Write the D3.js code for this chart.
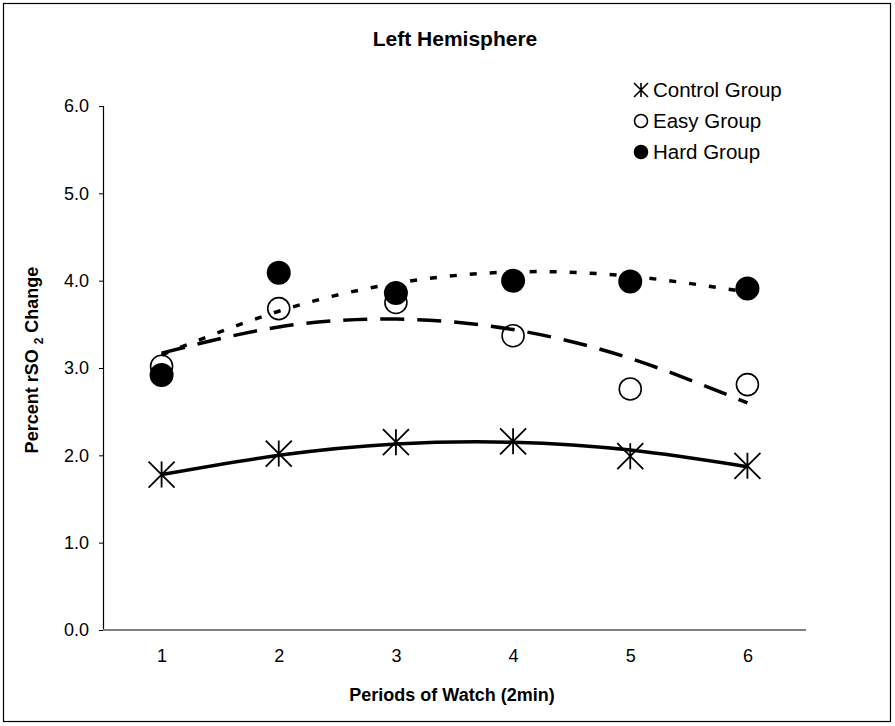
<!DOCTYPE html>
<html>
<head>
<meta charset="utf-8">
<title>Left Hemisphere</title>
<script src="https://cdn.jsdelivr.net/npm/d3@7"></script>
<style>
body { margin: 0; background: #fff; }
text { font-family: Arial, "Liberation Sans", sans-serif; fill: #000; }
</style>
</head>
<body>
<div id="chart"></div>
<script>
// values
var periods = ["1", "2", "3", "4", "5", "6"];
var controlValues = [1.78, 2.02, 2.15, 2.16, 1.99, 1.88];
var easyValues    = [3.02, 3.68, 3.75, 3.37, 2.76, 2.81];
var hardValues    = [2.92, 4.09, 3.86, 4.00, 3.99, 3.91];
// trend lines (polynomial fits in the original), read at each period
var controlTrend = [1.78, 2.00, 2.13, 2.15, 2.06, 1.87];
var easyTrend    = [3.17, 3.47, 3.56, 3.44, 3.11, 2.60];
var hardTrend    = [3.15, 3.65, 3.97, 4.10, 4.05, 3.87];
var yTicks = [0, 1, 2, 3, 4, 5, 6];

var svgWidth = 895, svgHeight = 726;
var plotLeft = 103, plotRight = 806, plotTop = 106, plotBottom = 630;

var svg = d3.select("#chart").append("svg")
    .attr("width", svgWidth)
    .attr("height", svgHeight);

// outer frame
svg.append("rect")
    .attr("x", 3.5).attr("y", 3.5)
    .attr("width", 887).attr("height", 718)
    .attr("fill", "none").attr("stroke", "#000").attr("stroke-width", 1.2);

var x = d3.scalePoint().domain(periods).range([plotLeft, plotRight]).padding(0.5);
var y = d3.scaleLinear().domain([0, 6]).range([plotBottom, plotTop]);

// y axis
var yAxis = svg.append("g")
    .attr("transform", "translate(" + plotLeft + ",0)")
    .call(d3.axisLeft(y).tickValues(yTicks).tickSize(4).tickPadding(10)
        .tickFormat(d3.format(".1f")));
yAxis.select(".domain").attr("stroke", "#000").attr("stroke-width", 1.2);
yAxis.selectAll(".tick line").attr("stroke", "#000");
yAxis.selectAll("text").attr("font-size", "18px").attr("font-family", null);

// x axis
var xAxis = svg.append("g")
    .attr("transform", "translate(0," + plotBottom + ")")
    .call(d3.axisBottom(x).tickSize(0).tickPadding(19).tickSizeOuter(0));
xAxis.select(".domain").attr("stroke", "#808080").attr("stroke-width", 2)
    .attr("d", "M" + plotLeft + ",0H" + plotRight);
xAxis.selectAll("text").attr("font-size", "18px").attr("font-family", null);

// titles
svg.append("text")
    .attr("x", 455).attr("y", 46)
    .attr("text-anchor", "middle")
    .attr("font-size", "21px").attr("font-weight", "bold")
    .text("Left Hemisphere");

svg.append("text")
    .attr("x", 452).attr("y", 701)
    .attr("text-anchor", "middle")
    .attr("font-size", "18px").attr("font-weight", "bold")
    .text("Periods of Watch (2min)");

var ylab = svg.append("text")
    .attr("transform", "translate(38,360) rotate(-90)")
    .attr("text-anchor", "middle")
    .attr("font-size", "18px").attr("font-weight", "bold");
ylab.append("tspan").text("Percent rSO ");
ylab.append("tspan").attr("font-size", "12px").attr("dy", 5).text("2");
ylab.append("tspan").attr("dy", -5).text(" Change");

// star marker: an X plus a vertical stroke
function starPath(r) {
    return "M" + (-r) + "," + (-r) + "L" + r + "," + r +
           "M" + r + "," + (-r) + "L" + (-r) + "," + r +
           "M0," + (-r) + "L0," + r;
}

svg.append("g").selectAll("path")
    .data(controlValues)
    .enter().append("path")
    .attr("transform", function(d, i) { return "translate(" + x(periods[i]) + "," + y(d) + ")"; })
    .attr("d", starPath(13))
    .attr("stroke", "#000").attr("stroke-width", 1.8).attr("fill", "none");

svg.append("g").selectAll("circle")
    .data(easyValues)
    .enter().append("circle")
    .attr("cx", function(d, i) { return x(periods[i]); })
    .attr("cy", function(d) { return y(d); })
    .attr("r", 11)
    .attr("fill", "#fff").attr("stroke", "#000").attr("stroke-width", 1.6);

svg.append("g").selectAll("circle")
    .data(hardValues)
    .enter().append("circle")
    .attr("cx", function(d, i) { return x(periods[i]); })
    .attr("cy", function(d) { return y(d); })
    .attr("r", 12)
    .attr("fill", "#000");

// trend lines on top
var line = d3.line()
    .x(function(d, i) { return x(periods[i]); })
    .y(function(d) { return y(d); })
    .curve(d3.curveNatural);

svg.append("path").datum(controlTrend)
    .attr("d", line).attr("fill", "none")
    .attr("stroke", "#000").attr("stroke-width", 3.5);

svg.append("path").datum(easyTrend)
    .attr("d", line).attr("fill", "none")
    .attr("stroke", "#000").attr("stroke-width", 3.5)
    .attr("stroke-dasharray", "24,13");

svg.append("path").datum(hardTrend)
    .attr("d", line).attr("fill", "none")
    .attr("stroke", "#000").attr("stroke-width", 3.5)
    .attr("stroke-dasharray", "7,13");

// legend
var legendItems = ["Control Group", "Easy Group", "Hard Group"];
var legend = svg.append("g").attr("transform", "translate(641,90)");
legendItems.forEach(function(name, i) {
    var g = legend.append("g").attr("transform", "translate(0," + (i * 31) + ")");
    if (i === 0) {
        g.append("path").attr("d", starPath(7))
            .attr("stroke", "#000").attr("stroke-width", 1.6).attr("fill", "none");
    } else {
        g.append("circle").attr("r", 6.5)
            .attr("fill", i === 1 ? "#fff" : "#000")
            .attr("stroke", "#000").attr("stroke-width", 1.6);
    }
    g.append("text").attr("x", 12).attr("y", 7)
        .attr("font-size", "20.5px").text(name);
});
</script>
</body>
</html>
